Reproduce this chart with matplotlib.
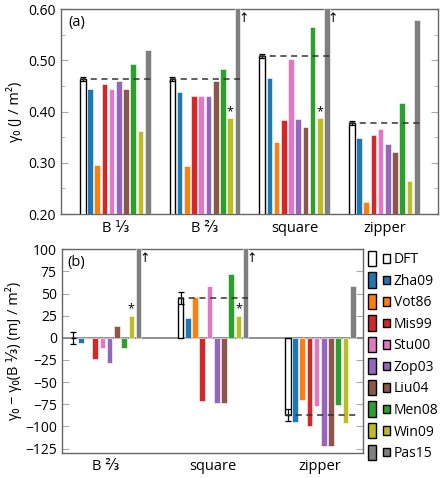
import matplotlib
matplotlib.use("Agg")
import matplotlib.pyplot as plt
from matplotlib.patches import Rectangle
from matplotlib.ticker import MultipleLocator
import numpy as np

plt.rcParams['font.family'] = ['Open Sans', 'DejaVu Sans']
plt.rcParams['font.size'] = 10

# data
methods = ["DFT", "Zha09", "Vot86", "Mis99", "Stu00", "Zop03", "Liu04", "Men08", "Win09", "Pas15"]
colors = ["white", "tab:blue", "tab:orange", "tab:red", "tab:pink", "tab:purple",
          "tab:brown", "tab:green", "tab:olive", "tab:gray"]

groups_a = ["B \u2153", "B \u2154", "square", "zipper"]
# surface energies (J/m^2), rows = methods, cols = groups; clipped bars above 0.60
gamma = {
    "DFT":   [0.464, 0.464, 0.509, 0.377],
    "Zha09": [0.444, 0.438, 0.466, 0.348],
    "Vot86": [0.295, 0.293, 0.341, 0.224],
    "Mis99": [0.455, 0.431, 0.384, 0.354],
    "Stu00": [0.444, 0.431, 0.502, 0.366],
    "Zop03": [0.459, 0.431, 0.386, 0.336],
    "Liu04": [0.444, 0.459, 0.371, 0.321],
    "Men08": [0.494, 0.483, 0.566, 0.417],
    "Win09": [0.362, 0.388, 0.388, 0.265],
    "Pas15": [0.520, 0.650, 0.650, 0.580],
}
gamma_err = [0.004, 0.004, 0.004, 0.004]

groups_b = ["B \u2154", "square", "zipper"]
# gamma - gamma(B 1/3) in mJ/m^2
dgamma = {
    "DFT":   [0, 45, -87],
    "Zha09": [-6, 22, -95],
    "Vot86": [-1, 46, -70],
    "Mis99": [-24, -71, -100],
    "Stu00": [-12, 58, -77],
    "Zop03": [-28, -73, -122],
    "Liu04": [13, -73, -122],
    "Men08": [-11, 72, -76],
    "Win09": [25, 25, -96],
    "Pas15": [150, 150, 59],
}
dgamma_err = [7, 7, 7]

stars_a = [1, 2]   # Win09 marked in groups
stars_b = [0, 1]
arrows_a = [1, 2]  # Pas15 off scale
arrows_b = [0, 1]

fig = plt.figure(figsize=(4.4, 4.78), dpi=100)
ax1 = fig.add_axes([0.1386, 0.5523, 0.857, 0.4282])
ax2 = fig.add_axes([0.1402, 0.0523, 0.685, 0.4262])


def draw(ax, groups, vals, err, pitch, stars, arrows, ytop, star_off, dashed_groups):
    n = len(methods)
    xc = np.arange(len(groups))
    w = pitch * 0.78
    for j, m in enumerate(methods):
        x = xc + (j - (n - 1) / 2) * pitch
        if m == "DFT":
            ax.bar(x, vals[m], w, color="white", edgecolor="black", lw=1.0, zorder=3)
            ax.errorbar(x, vals[m], yerr=err, fmt="none", ecolor="black",
                        elinewidth=0.9, capsize=2.5, capthick=0.9, zorder=4)
        else:
            ax.bar(x, vals[m], w, color=colors[j], edgecolor="white", lw=0.4, zorder=3)
    # dashed DFT reference line per group
    for g in dashed_groups:
        x0 = xc[g] - (n - 1) / 2 * pitch - w / 2
        x1 = xc[g] + (n - 1) / 2 * pitch + w / 2
        ax.plot([x0, x1], [vals["DFT"][g]] * 2, ls=(0, (4, 3)), color="#333333",
                lw=1.1, zorder=5)
    jw = methods.index("Win09")
    for g in stars:
        x = xc[g] + (jw - (n - 1) / 2) * pitch
        ax.text(x, vals["Win09"][g] + star_off, "*", ha="center", va="bottom",
                fontsize=9, zorder=6)
    jp = methods.index("Pas15")
    for g in arrows:
        x = xc[g] + (jp - (n - 1) / 2) * pitch + w / 2
        ax.annotate("\u2191", (x, ytop), xytext=(-1.5, -2), textcoords="offset points",
                    ha="left", va="top", fontsize=9, family=["DejaVu Sans"])
    ax.set_xticks(xc)
    ax.set_xticklabels(groups, fontsize=10.5, family=["Open Sans", "DejaVu Sans"])
    ax.tick_params(axis="x", length=0)


draw(ax1, groups_a, gamma, gamma_err, 0.0805, stars_a, arrows_a, 0.60, 0.0, [0, 1, 2, 3])
ax1.set_xlim(-0.605, 3.6)
ax1.set_ylim(0.20, 0.60)
ax1.yaxis.set_major_locator(MultipleLocator(0.1))
ax1.yaxis.set_minor_locator(MultipleLocator(0.05))
ax1.set_yticklabels([f"{v:.2f}" for v in ax1.get_yticks()])
ax1.set_ylabel("\u03b3\u2080 (J / m\u00b2)", fontsize=10.5, labelpad=4)
ax1.text(0.02, 0.97, "(a)", transform=ax1.transAxes, ha="left", va="top", fontsize=10.5)
ax1.tick_params(axis="x", pad=5)

draw(ax2, groups_b, dgamma, dgamma_err, 0.0675, stars_b, arrows_b, 100, 1, [1, 2])
ax2.axhline(0, color="#888888", lw=1.3, zorder=2)
ax2.set_xlim(-0.414, 2.40)
ax2.set_ylim(-130, 100)
ax2.set_yticks(np.arange(-125, 101, 25))
ax2.set_ylabel("\u03b3\u2080 \u2212 \u03b3\u2080(B \u2153) (mJ / m\u00b2)", fontsize=10.5, labelpad=2)
ax2.text(0.02, 0.97, "(b)", transform=ax2.transAxes, ha="left", va="top", fontsize=10.5)
ax2.tick_params(axis="x", pad=4)

for ax in (ax1, ax2):
    for s in ax.spines.values():
        s.set_color("#666666")
        s.set_linewidth(1.0)
    ax.tick_params(axis="y", which="both", direction="in", right=True,
                   color="#aaaaaa", labelsize=10)
    ax.tick_params(axis="y", which="major", length=5)
    ax.tick_params(axis="y", which="minor", length=3)


# legend with a tall + small swatch per method
class TwoSwatch:
    def legend_artist(self, legend, orig_handle, fontsize, handlebox):
        x0, y0 = handlebox.xdescent, handlebox.ydescent
        h = handlebox.height
        fc = orig_handle.get_facecolor()
        r1 = Rectangle((x0 - handlebox.xdescent, y0 - 2), 5.5, h + 4, facecolor=fc,
                       edgecolor="black", lw=1.0, transform=handlebox.get_transform())
        r2 = Rectangle((x0 + 10.5, y0 + 0.5), 5, h - 1, facecolor=fc,
                       edgecolor="black", lw=1.0, transform=handlebox.get_transform())
        handlebox.add_artist(r1)
        handlebox.add_artist(r2)
        return r1


handles = [Rectangle((0, 0), 1, 1, facecolor=c) for c in colors]
fig.legend(handles, methods, handler_map={Rectangle: TwoSwatch()},
           loc="upper left", bbox_to_anchor=(0.83, 0.478), frameon=False,
           fontsize=10, handlelength=1.35, handletextpad=0.5, labelspacing=0.47,
           borderaxespad=0, borderpad=0.2)

fig.savefig("out.png", dpi=100)
